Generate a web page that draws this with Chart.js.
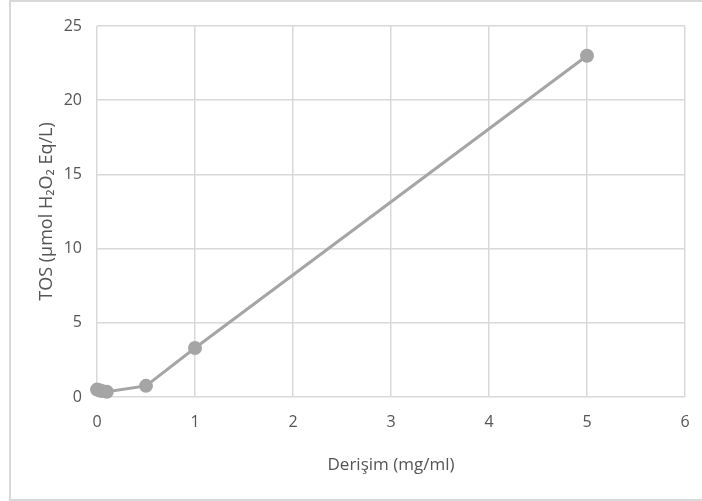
<!DOCTYPE html>
<html>
<head>
<meta charset="utf-8">
<script src="https://cdn.jsdelivr.net/npm/chart.js@4/dist/chart.umd.min.js"></script>
<style>
  body { margin: 0; background: #fff; overflow: hidden; }
  #frame {
    position: absolute; left: 9px; top: 0; width: 693px; height: 501px; box-sizing: border-box;
    border-top: 2px solid #d9d9d9; border-left: 2px solid #d9d9d9; border-bottom: 2px solid #d9d9d9;
  }
  #wrap { position: absolute; left: 0; top: 0; width: 702px; height: 501px; }
</style>
</head>
<body>
<div id="frame"></div>
<div id="wrap"><canvas id="tos"></canvas></div>
<script>
"use strict";

// Derişim (mg/ml) vs TOS
const concentrations = [0, 0.025, 0.05, 0.1, 0.5, 1, 5];
const tos_values = [0.5, 0.45, 0.4, 0.35, 0.75, 3.3, 23];

const x_title = 'Derişim (mg/ml)';
const y_title = 'TOS (µmol H₂O₂ Eq/L)';

const text_gray = '#555555';
const grid_gray = '#d9d9d9';
const line_gray = '#a5a5a5';

const tos_canvas = document.getElementById('tos');

let tos_chart = new Chart(tos_canvas, {
  type: 'scatter',
  data: {
    datasets: [{
      label: 'TOS',
      data: concentrations.map((c, i) => ({ x: c, y: tos_values[i] })),
      showLine: true,
      clip: false,
      borderColor: line_gray,
      backgroundColor: line_gray,
      borderWidth: 3,
      pointRadius: 5.5,
      pointHoverRadius: 5.5
    }]
  },
  options: {
    responsive: true,
    maintainAspectRatio: false,
    animation: false,
    layout: {
      padding: { left: 32, right: 17, top: 26, bottom: 22 }
    },
    plugins: {
      legend: { display: false },
      tooltip: { enabled: false }
    },
    scales: {
      x: {
        type: 'linear',
        min: 0,
        max: 6,
        ticks: {
          stepSize: 1,
          color: text_gray,
          padding: 16,
          font: { family: 'Open Sans', size: 16 }
        },
        grid: { color: grid_gray, lineWidth: 1.5, drawTicks: false },
        border: { display: false },
        title: {
          display: true,
          text: x_title,
          color: text_gray,
          font: { family: 'Open Sans', size: 17 },
          padding: 4
        },
        afterFit: function (scale) {
          scale.height = 501 - 397 - 22;
          scale.paddingLeft = 0;
          scale.paddingRight = 0;
        }
      },
      y: {
        min: 0,
        max: 25,
        ticks: {
          stepSize: 5,
          color: text_gray,
          padding: 15,
          font: { family: 'Open Sans', size: 16 }
        },
        grid: { color: grid_gray, lineWidth: 1.5, drawTicks: false },
        border: { display: false },
        title: {
          display: true,
          text: y_title,
          color: text_gray,
          font: { family: 'Open Sans', size: 18 },
          padding: 4
        },
        afterFit: function (scale) { scale.width = 97 - 32; }
      }
    }
  }
});
</script>
</body>
</html>
